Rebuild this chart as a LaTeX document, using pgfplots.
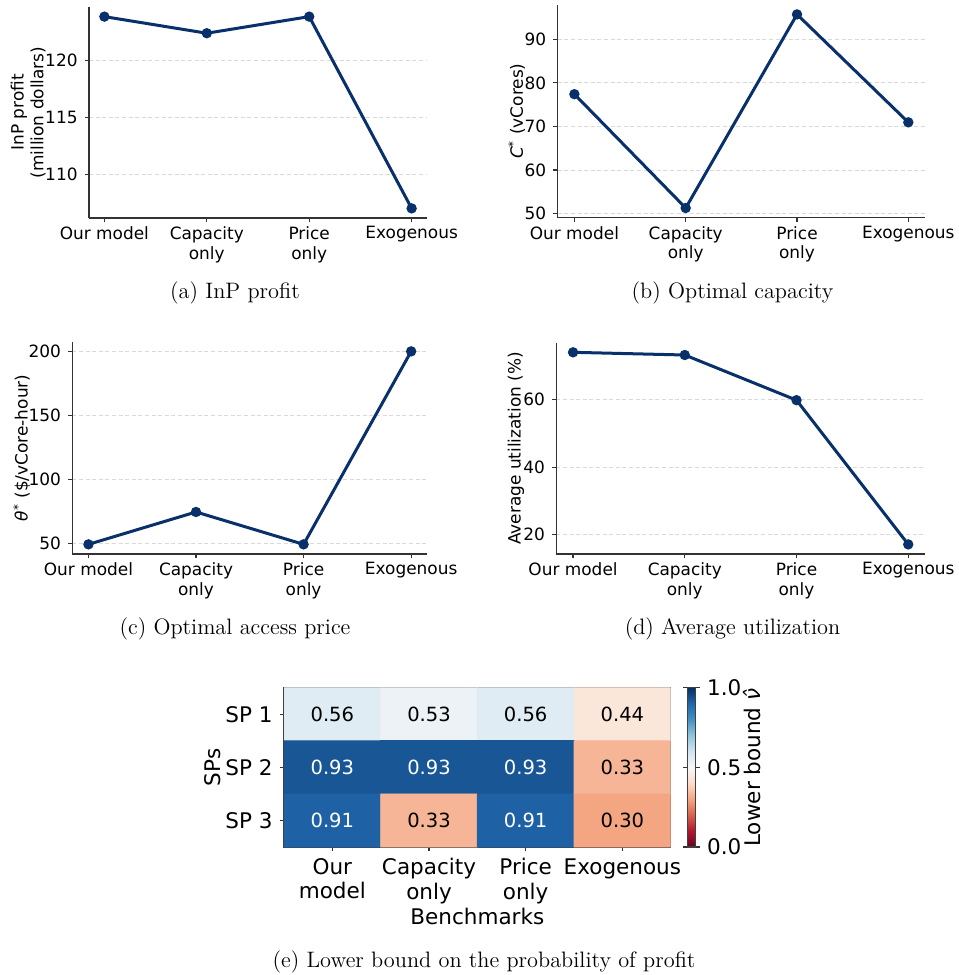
\documentclass[border=0pt]{standalone}
\usepackage{fontspec}
\usepackage{pgfplots}
\pgfplotsset{compat=1.18}
\newfontfamily\dejavu{DejaVu Sans}
\newcommand{\tickfont}{\dejavu\fontsize{8.5}{9.9}\selectfont}
\newcommand{\hmfont}{\dejavu\fontsize{10.8}{12.2}\selectfont}
\newcommand{\cellfont}{\dejavu\fontsize{9.8}{11}\selectfont}
\newcommand{\capfont}{\rmfamily\fontsize{11.2}{13}\selectfont}
\definecolor{navy}{HTML}{08306B}
\pgfplotsset{
  linechart/.style={
    scale only axis, anchor=north west,
    axis lines*=left,
    axis line style={black!80, line width=0.6bp},
    every tick/.style={black!80, line width=0.6bp},
    tick align=outside, major tick length=2.2bp,
    xtick={0,1,2,3},
    xticklabels={Our model,{Capacity\\only},{Price\\only},Exogenous},
    xmin=-0.15, xmax=3.15,
    ymajorgrids,
    major grid style={gray!30, line width=0.4bp, dash pattern=on 2bp off 1.3bp},
    tick label style={font=\tickfont},
    xticklabel style={align=center, yshift=1.5bp},
    /pgf/number format/assume math mode=true,
  },
  lineplot/.style={color=navy, line width=1.5bp, mark=*, mark size=1.8bp,
    mark options={solid, fill=navy, draw=navy}},
  colormap={RdBu}{rgb255=(103,0,31) rgb255=(178,24,43) rgb255=(214,96,77)
    rgb255=(244,165,130) rgb255=(253,219,199) rgb255=(247,247,247)
    rgb255=(209,229,240) rgb255=(146,197,222) rgb255=(67,147,195)
    rgb255=(33,102,172) rgb255=(5,48,97)},
}
\begin{document}
\begin{tikzpicture}
\useasboundingbox (0,0) rectangle (479.5bp,-487.5bp);

% (a) InP profit
\begin{axis}[linechart, at={(44.5bp,-3.5bp)}, width=169bp, height=105.5bp,
  ymin=106.22, ymax=124.64, ytick={110,115,120},
  every axis y label/.style={at={(axis description cs:-0.18,0.5)}, rotate=90, anchor=center, align=center, font=\tickfont},
  ylabel={InP profit\\(million dollars)}]
\addplot[lineplot] coordinates {(0,123.8) (1,122.35) (2,123.8) (3,107.06)};
\end{axis}
\node[font=\capfont] at (117.5bp,-146.5bp) {(a) InP profit};

% (b) Optimal capacity
\begin{axis}[linechart, at={(278.85bp,-2.35bp)}, width=183.65bp, height=106.5bp,
  ymin=49.08, ymax=97.92, ytick={50,60,70,80,90},
  every axis y label/.style={at={(axis description cs:-0.1116,0.5)}, rotate=90, anchor=center, font=\tickfont},
  ylabel={\textit{C}\textsuperscript{*} (vCores)}]
\addplot[lineplot] coordinates {(0,77.4) (1,51.3) (2,95.7) (3,70.95)};
\end{axis}
\node[font=\capfont] at (366.25bp,-146.5bp) {(b) Optimal capacity};

% (c) Optimal access price
\begin{axis}[linechart, at={(36.15bp,-170.85bp)}, width=177.5bp, height=106.15bp,
  ymin=41.66, ymax=207.54, ytick={50,100,150,200},
  every axis y label/.style={at={(axis description cs:-0.1425,0.5)}, rotate=90, anchor=center, font=\tickfont},
  ylabel={\textit{θ}\textsuperscript{*} (\$/vCore-hour)}]
\addplot[lineplot] coordinates {(0,49.2) (1,74.5) (2,49.2) (3,200)};
\end{axis}
\node[font=\capfont] at (117.5bp,-314.5bp) {(c) Optimal access price};

% (d) Average utilization
\begin{axis}[linechart, at={(278.15bp,-171.35bp)}, width=184.35bp, height=105.65bp,
  ymin=14.25, ymax=76.95, ytick={20,40,60},
  every axis y label/.style={at={(axis description cs:-0.1093,0.5)}, rotate=90, anchor=center, font=\tickfont},
  ylabel={Average utilization (\%)}]
\addplot[lineplot] coordinates {(0,74.1) (1,73.3) (2,59.9) (3,17.1)};
\end{axis}
\node[font=\capfont] at (366.25bp,-314.5bp) {(d) Average utilization};

% (e) heatmap
\begin{axis}[at={(142bp,-343.85bp)}, anchor=north west, scale only axis,
  width=193.35bp, height=79.65bp,
  colormap name=RdBu, point meta min=0, point meta max=1,
  enlargelimits=false, xmin=-0.5, xmax=3.5, ymin=-0.5, ymax=2.5, y dir=reverse,
  xtick={0,1,2,3},
  xticklabels={{Our\\model},{Capacity\\only},{Price\\only},Exogenous},
  ytick={0,1,2}, yticklabels={SP 1,SP 2,SP 3},
  xtick pos=left, ytick pos=left,
  tick align=outside, major tick length=2.2bp,
  every tick/.style={black!80, line width=0.6bp},
  axis line style={black!75, line width=0.6bp},
  tick label style={font=\hmfont},
  xticklabel style={align=center},
  every axis y label/.style={at={(axis description cs:-0.1846,0.5)}, rotate=90, anchor=center, font=\hmfont},
  every axis x label/.style={at={(axis description cs:0.5,-0.433)}, anchor=center, font=\hmfont},
  xlabel={Benchmarks}, ylabel={SPs},
  colorbar,
  colorbar style={at={(parent axis.north east)}, anchor=north west, xshift=-0.2bp,
    scale only axis, width=4.2bp, height=79.65bp,
    ytick={0,0.5,1}, tick align=outside, major tick length=2.2bp,
    every tick/.style={black!80, line width=0.6bp},
    axis line style={black!75, line width=0.6bp},
    yticklabel style={font=\hmfont, /pgf/number format/.cd, fixed, fixed zerofill, precision=1, assume math mode=true},
    every axis y label/.style={at={(axis description cs:7.67,0.5)}, rotate=90, anchor=center, font=\hmfont},
    ylabel={Lower bound \textit{ν̂}}},
]
\addplot[matrix plot*, mesh/cols=4, mesh/rows=3, point meta=explicit] table[meta=v] {
x y v
0 0 0.56
1 0 0.53
2 0 0.56
3 0 0.44
0 1 0.93
1 1 0.93
2 1 0.93
3 1 0.33
0 2 0.91
1 2 0.33
2 2 0.91
3 2 0.30
};
\addplot[draw=none, mark=none, nodes near coords, point meta=explicit symbolic,
  nodes near coords style={anchor=center, font=\cellfont, text=white}] table[meta=l] {
x y l
0 1 0.93
1 1 0.93
2 1 0.93
0 2 0.91
2 2 0.91
};
\addplot[draw=none, mark=none, nodes near coords, point meta=explicit symbolic,
  nodes near coords style={anchor=center, font=\cellfont, text=black}] table[meta=l] {
x y l
0 0 0.56
1 0 0.53
2 0 0.56
3 0 0.44
3 1 0.33
1 2 0.33
3 2 0.30
};
\end{axis}
\node[font=\capfont] at (242bp,-481bp) {(e) Lower bound on the probability of profit};
\end{tikzpicture}
\end{document}
